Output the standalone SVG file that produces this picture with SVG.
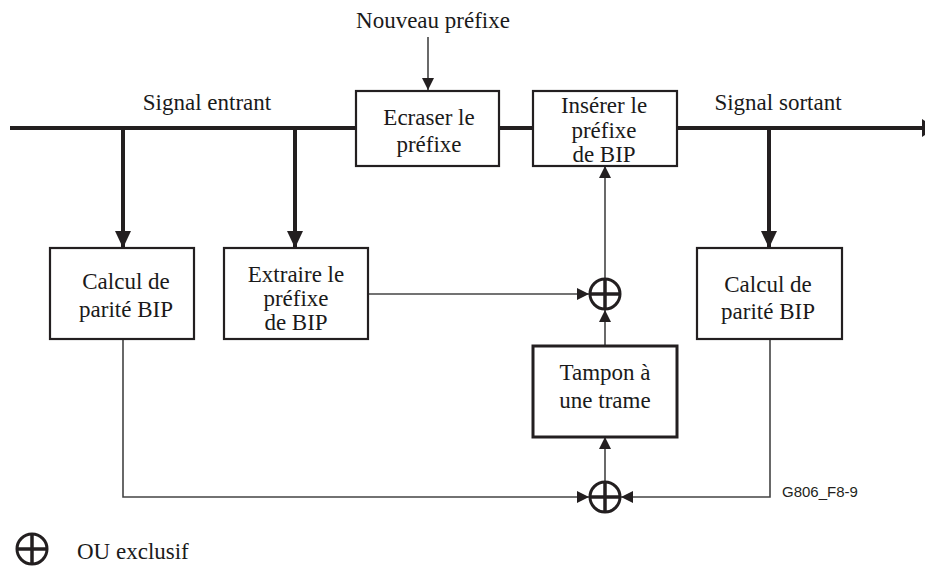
<svg xmlns="http://www.w3.org/2000/svg" width="925" height="567" viewBox="0 0 925 567">
<defs>
<style>
.box{fill:#fff;stroke:#231f20;stroke-width:2.2}
.thick{stroke:#231f20;stroke-width:4;fill:none}
.thin{stroke:#444;stroke-width:1.6;fill:none}
.ah{fill:#231f20}
.xor{fill:#fff;stroke:#231f20;stroke-width:3}
.xc{stroke:#231f20;stroke-width:3.5}
</style>
<marker id="big" markerWidth="18" markerHeight="16" refX="17" refY="8" orient="auto" markerUnits="userSpaceOnUse">
<path d="M0,0 L17,8 L0,16 Z" class="ah"/>
</marker>
<marker id="sm" markerWidth="13" markerHeight="12" refX="12" refY="6" orient="auto" markerUnits="userSpaceOnUse">
<path d="M0,0 L12,6 L0,12 Z" class="ah"/>
</marker>
</defs>
<rect width="925" height="567" fill="#fff"/>
<g id="connectors">
<line class="thick" x1="10" y1="128" x2="356" y2="128"/>
<line class="thick" x1="499" y1="128" x2="533" y2="128"/>
<line class="thick" x1="677" y1="128" x2="922" y2="128"/>
<path d="M922,119 L935,128 L922,137 Z" class="ah"/>
<line class="thick" x1="123" y1="128" x2="123" y2="248" marker-end="url(#big)"/>
<line class="thick" x1="295" y1="128" x2="295" y2="248" marker-end="url(#big)"/>
<line class="thick" x1="769" y1="128" x2="769" y2="248" marker-end="url(#big)"/>
<line class="thin" x1="428" y1="37" x2="428" y2="90" marker-end="url(#sm)"/>
<line class="thin" x1="368" y1="294" x2="589" y2="294" marker-end="url(#sm)"/>
<line class="thin" x1="605" y1="278" x2="605" y2="166" marker-end="url(#sm)"/>
<line class="thin" x1="605" y1="346" x2="605" y2="310" marker-end="url(#sm)"/>
<line class="thin" x1="605" y1="481" x2="605" y2="437" marker-end="url(#sm)"/>
<polyline class="thin" points="123,339 123,497 589,497" marker-end="url(#sm)"/>
<polyline class="thin" points="770,339 770,497 621,497" marker-end="url(#sm)"/>
</g>
<g font-family="Liberation Serif" font-size="23" fill="#1a1a1a" text-anchor="middle">
<g id="nouveau"><text x="433" y="28">Nouveau préfixe</text></g>
<g id="signal-entrant"><text x="207" y="110">Signal entrant</text></g>
<g id="signal-sortant"><text x="778" y="110">Signal sortant</text></g>
<g id="ecraser">
<rect class="box" x="356" y="91" width="143" height="75"/>
<text x="429" y="125">Ecraser le</text>
<text x="429" y="152">préfixe</text>
</g>
<g id="inserer">
<rect class="box" x="533" y="91" width="144" height="75"/>
<text x="604" y="113">Insérer le</text>
<text x="604" y="138">préfixe</text>
<text x="604" y="162">de BIP</text>
</g>
<g id="calcul-left">
<rect class="box" x="50" y="248" width="144" height="91"/>
<text x="126" y="289">Calcul de</text>
<text x="126" y="317">parité BIP</text>
</g>
<g id="extraire">
<rect class="box" x="224" y="248" width="144" height="91"/>
<text x="296" y="282">Extraire le</text>
<text x="296" y="306">préfixe</text>
<text x="296" y="330">de BIP</text>
</g>
<g id="calcul-right">
<rect class="box" x="697" y="248" width="145" height="91"/>
<text x="768" y="292">Calcul de</text>
<text x="768" y="319">parité BIP</text>
</g>
<g id="tampon">
<rect class="box" x="533" y="346" width="144" height="91" style="stroke-width:3"/>
<text x="605" y="380">Tampon à</text>
<text x="605" y="408">une trame</text>
</g>
<g id="legend">
<circle class="xor" cx="32" cy="549" r="15"/>
<line class="xc" x1="17" y1="549" x2="47" y2="549"/>
<line class="xc" x1="32" y1="534" x2="32" y2="564"/>
<text x="77" y="559" text-anchor="start">OU exclusif</text>
</g>
</g>
<g id="xor-top">
<circle class="xor" cx="605" cy="294" r="15"/>
<line class="xc" x1="590" y1="294" x2="620" y2="294"/>
<line class="xc" x1="605" y1="279" x2="605" y2="309"/>
</g>
<g id="xor-bottom">
<circle class="xor" cx="605" cy="497" r="15"/>
<line class="xc" x1="590" y1="497" x2="620" y2="497"/>
<line class="xc" x1="605" y1="482" x2="605" y2="512"/>
</g>
<g id="label"><text x="782" y="497" font-family="Liberation Sans" font-size="15" fill="#231f20">G806_F8-9</text></g>
</svg>
